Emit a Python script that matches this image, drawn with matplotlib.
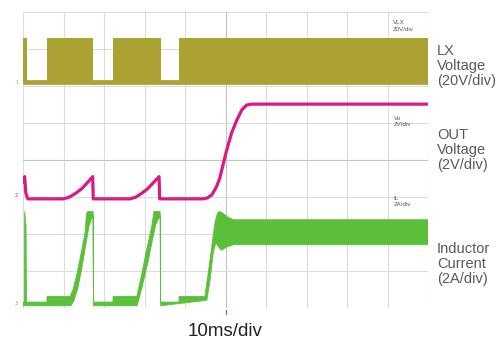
import matplotlib
matplotlib.use("Agg")
import matplotlib.pyplot as plt
import numpy as np

# ---- scope setup: 10 ms/div horizontally, 8 vertical divisions ----
time_per_div_ms = 10.0
n_hdiv, n_vdiv = 10, 8

# Channel ground positions (divisions from bottom) and scales (units/div)
lx_ground, lx_scale = 6.1, 20.0   # V/div
vo_ground, vo_scale = 2.95, 2.0   # V/div
il_ground, il_scale = 0.11, 2.0   # A/div

# LX switch-node voltage: switching bursts (start/end in ms) and amplitude
lx_on_start = [0.0, 5.9, 22.2, 38.5]
lx_on_end = [1.0, 17.3, 34.1, 100.0]
lx_high_v = 24.0

# Output voltage (ms, V)
vo_t = [0.0, 0.4, 0.7, 1.2, 10.0, 11.5, 13.0, 14.5, 16.0, 17.2, 17.35,
        26.5, 27.9, 29.3, 30.8, 32.3, 33.6, 33.75,
        44.5, 45.5, 46.6, 47.8, 48.6, 49.5, 50.3, 51.5, 52.8, 54.0, 55.2, 56.5, 100.0]
vo_v = [0.9, 1.2, 0.3, 0.0, 0.0, 0.1, 0.3, 0.55, 0.9, 1.2, 0.0,
        0.0, 0.1, 0.3, 0.55, 0.9, 1.2, 0.0,
        0.0, 0.05, 0.21, 0.66, 1.13, 1.94, 2.64, 3.56, 4.26, 4.80, 5.07, 5.12, 5.12]

# Inductor current ripple envelope: upper and lower edges (ms, A)
il_hi_t = [0.0, 0.35, 0.42, 0.75, 0.85, 1.0, 5.9, 5.95, 11.6, 12.4, 13.3, 14.5,
           15.3, 15.7, 16.0, 17.3, 17.4, 22.2, 22.25, 28.1, 29.3, 30.5, 31.8,
           32.35, 32.6, 33.85, 33.95, 38.5, 38.55, 44.9, 45.75, 46.6, 47.4, 48.0,
           48.5, 49.4, 50.5, 52.0, 100.0]
il_hi = [0.1, 0.1, 5.0, 4.2, 0.1, 0.1, 0.1, 0.4, 0.4, 0.8, 1.6, 2.9,
         3.8, 4.9, 5.0, 5.0, 0.1, 0.1, 0.4, 0.4, 1.6, 2.9, 4.2,
         5.0, 5.0, 5.0, 0.1, 0.1, 0.4, 0.4, 1.7, 3.1, 4.4, 4.9,
         5.0, 4.9, 4.7, 4.55, 4.55]
il_lo_t = [0.0, 11.8, 12.6, 13.5, 14.5, 15.5, 16.3, 16.9, 17.3, 17.4, 28.2, 29.5,
           30.9, 32.0, 32.8, 33.9, 34.0, 45.4, 46.2, 47.0, 47.6, 48.2, 49.0, 50.5,
           52.0, 100.0]
il_lo = [-0.1, -0.1, 0.2, 0.8, 1.9, 3.2, 4.2, 4.6, 4.8, -0.1, -0.1, 1.0,
         2.3, 3.5, 4.3, 4.8, -0.1, 0.2, 1.3, 2.8, 3.3, 3.1, 2.9, 3.1,
         3.2, 3.2]

olive = "#aaa232"
pink = "#d91a80"
green = "#5cbf3a"

W, H = 498, 343
fig = plt.figure(figsize=(W / 100, H / 100), dpi=100)
fig.patch.set_facecolor("white")
ax = fig.add_axes([23 / W, 1 - 308 / H, (428 - 23) / W, (308 - 12) / H])

x_max = n_hdiv * time_per_div_ms
ax.set_xlim(0, x_max)
ax.set_ylim(0, n_vdiv)

# graticule
for i in range(n_hdiv + 1):
    c = "#c4c4c4" if i == n_hdiv // 2 else "#dcdcdc"
    ax.axvline(i * time_per_div_ms, color=c, lw=0.8, zorder=0)
for j in range(n_vdiv + 1):
    c = "#c4c4c4" if j == n_vdiv // 2 else "#dcdcdc"
    ax.axhline(j, color=c, lw=0.8, zorder=0)
for s in ax.spines.values():
    s.set_visible(False)
ax.set_xticks([])
ax.set_yticks([])

# LX: baseline plus switching bursts
ax.plot([0, x_max], [lx_ground, lx_ground], color=olive, lw=3.4, zorder=2,
        solid_capstyle="butt")
for a, b in zip(lx_on_start, lx_on_end):
    ax.fill_between([a, b], lx_ground - 0.05, lx_ground + lx_high_v / lx_scale,
                    color=olive, lw=0, zorder=2)

# Output voltage
vo_div = vo_ground + np.array(vo_v) / vo_scale
ax.plot(vo_t, vo_div, color=pink, lw=2.3, zorder=3, solid_joinstyle="round")

# Inductor current envelope as a filled band
up_x = np.array(il_hi_t)
up_y = il_ground + np.array(il_hi) / il_scale
lo_x = np.array(il_lo_t)[::-1]
lo_y = (il_ground + np.array(il_lo) / il_scale)[::-1]
ax.fill(np.concatenate([up_x, lo_x]), np.concatenate([up_y, lo_y]),
        color=green, lw=0.6, ec=green, zorder=3)

# channel tags inside graticule
tag = dict(fontsize=4.5, color="#555555", family="Liberation Sans",
           ha="left", va="center", linespacing=1.3)
ax.text(91.3, 7.62, "VLX\n20V/div", **tag)
ax.text(91.5, 5.05, "Vo\n2V/div", **tag)
ax.text(91.5, 2.87, "IL\n2A/div", **tag)

# ground markers on the left edge
ax.text(-1.2, lx_ground, "1", fontsize=3.5, color=olive, ha="right", va="center", clip_on=False)
ax.text(-1.2, vo_ground + 0.1, "2", fontsize=3.5, color=pink, ha="right", va="center", clip_on=False)
ax.text(-1.2, il_ground, "3", fontsize=3.5, color=green, ha="right", va="center", clip_on=False)

# trigger marker below the centre line
ax.plot([50, 50], [-0.05, -0.15], color="#c05050", lw=0.8, clip_on=False)

# side labels
lab = dict(fontsize=10.5, color="#5a5a5a", family="Liberation Sans",
           ha="left", va="center", linespacing=1.1)
fig.text(437 / W, 1 - 66 / H, "LX\nVoltage\n(20V/div)", **lab)
fig.text(437 / W, 1 - 150 / H, "OUT\nVoltage\n(2V/div)", **lab)
fig.text(437 / W, 1 - 264 / H, "Inductor\nCurrent\n(2A/div)", **lab)

fig.text(225 / W, 1 - 331 / H, "10ms/div", fontsize=13.5, color="#222222",
         family="Liberation Sans", ha="center", va="center")

fig.savefig("out.png", dpi=100, facecolor="white")
